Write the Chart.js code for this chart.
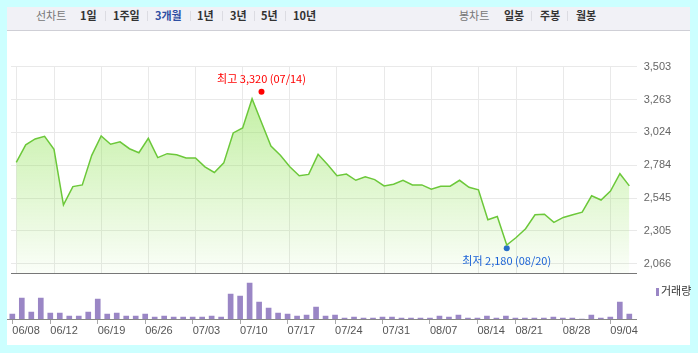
<!DOCTYPE html>
<html>
<head>
<meta charset="utf-8">
<script src="https://cdn.jsdelivr.net/npm/chart.js@4"></script>
<style>
  body { margin: 0; background: #ccffff; width: 698px; height: 353px; overflow: hidden; }
  #panel { position: absolute; left: 7px; top: 7px; width: 683px; height: 338px; background: #fff; }
  #head { position: absolute; left: 0; top: 0; width: 683px; height: 23px; background: #f1f1f6; border-bottom: 1px solid #cfcfd6; }
  #head span { position: absolute; top: 0; line-height: 17px; font: bold 11px "Noto Sans CJK KR", sans-serif; color: #333; white-space: nowrap; }
  #head span.lbl { font-weight: normal; color: #777; }
  #head span.on { color: #2e4fa3; }
  #head i { position: absolute; top: 4px; width: 1px; height: 10px; background: #dcdce2; }
  #priceCanvas { position: absolute; left: 0; top: 24px; }
  #volCanvas { position: absolute; left: 0; top: 270px; }
  #legend { position: absolute; left: 649px; top: 276px; font: 11px "Noto Sans CJK KR", sans-serif; color: #333; line-height: 14px; white-space: nowrap; }
  #legend b { display: inline-block; width: 3px; height: 8px; background: #9a86c5; margin-right: 2px; vertical-align: -1px; }
</style>
</head>
<body>
<div id="panel">
  <div id="head">
    <span class="lbl" style="left:29px">선차트</span>
    <span style="left:73px">1일</span><i style="left:98px"></i>
    <span style="left:106px">1주일</span><i style="left:140px"></i>
    <span class="on" style="left:148px">3개월</span><i style="left:183px"></i>
    <span style="left:190px">1년</span><i style="left:215px"></i>
    <span style="left:223px">3년</span><i style="left:247px"></i>
    <span style="left:254px">5년</span><i style="left:278px"></i>
    <span style="left:286px">10년</span>
    <span class="lbl" style="left:452px">봉차트</span>
    <span style="left:497px">일봉</span><i style="left:524px"></i>
    <span style="left:533px">주봉</span><i style="left:560px"></i>
    <span style="left:569px">월봉</span>
  </div>
  <canvas id="priceCanvas" width="683" height="246"></canvas>
  <canvas id="volCanvas" width="683" height="68"></canvas>
  <div id="legend"><b></b>거래량</div>
</div>
<script>
// ── Data ──────────────────────────────────────────────────────
const dates = [
  '06/08','06/09','06/10','06/11','06/12','06/15','06/16','06/17','06/18','06/19',
  '06/22','06/23','06/24','06/25','06/26','06/29','06/30',
  '07/01','07/02','07/03','07/06','07/07','07/08','07/09','07/10','07/13','07/14',
  '07/15','07/16','07/17','07/20','07/21','07/22','07/23','07/24','07/27','07/28',
  '07/29','07/30','07/31',
  '08/03','08/04','08/05','08/06','08/07','08/10','08/11','08/12','08/13','08/14',
  '08/18','08/19','08/20','08/21','08/24','08/25','08/26','08/27','08/28','08/31',
  '09/01','09/02','09/03','09/04','09/07','09/08'
];

const closes = [
  2806, 2933, 2976, 2996, 2900, 2495, 2629, 2641, 2857, 2998, 2938, 2955, 2905, 2876, 2981, 2840, 2869,
  2861, 2838, 2838, 2773, 2732, 2802, 3020, 3056, 3269, 3096, 2924, 2857, 2773, 2708, 2718, 2864, 2790,
  2708, 2720, 2675, 2701, 2680, 2634, 2646, 2675, 2641, 2641, 2610, 2632, 2632, 2675, 2624, 2605,
  2387, 2411, 2203, 2258, 2322, 2423, 2428, 2368, 2404, 2423, 2443, 2562, 2531, 2596, 2723, 2634
];

// 거래량 (relative units)
const volumes = [
  50, 210, 70, 210, 60, 60, 30, 30, 70, 200, 50, 60, 30, 30, 50, 20, 30,
  20, 20, 20, 20, 30, 20, 250, 230, 360, 170, 110, 60, 50, 30, 40, 120, 30, 40,
  10, 20, 10, 10, 20, 20, 10, 10, 10, 10, 30, 20, 40, 10, 10,
  30, 10, 30, 10, 10, 10, 10, 20, 10, 10, 0, 40, 10, 20, 170, 50
];

const axisDates = ['06/08','06/12','06/19','06/26','07/03','07/10','07/17',
                   '07/24','07/31','08/07','08/14','08/21','08/28','09/04'];

const yTickValues = [2066, 2305.5, 2545, 2784.5, 3024, 3263.5, 3503];
const yTickLabels = ['2,066', '2,305', '2,545', '2,784', '3,024', '3,263', '3,503'];

const markerDates  = ['07/14', '08/20'];
const markerValues = [3320, 2180];
const markerLabels = ['최고 3,320 (07/14)', '최저 2,180 (08/20)'];

// ── Shared setup ──────────────────────────────────────────────
Chart.defaults.font.family = '"Liberation Sans", Arial, sans-serif';
Chart.defaults.animation = false;

const xTicks = axisDates.map(d => dates.indexOf(d));
const X_MIN = -0.56, X_MAX = 65.78;
const GRID = '#e9e9e9';

const markerText = {
    id: 'markerText',
    afterDatasetsDraw(chart) {
        const { ctx, scales: { x, y } } = chart;
        ctx.save();
        ctx.font = '11px "Noto Sans CJK KR", sans-serif';
        ctx.textAlign = 'center';
        ctx.textBaseline = 'middle';
        markerValues.forEach((v, i) => {
            const px = x.getPixelForValue(dates.indexOf(markerDates[i]));
            const py = y.getPixelForValue(v) + (i === 0 ? -13 : 12.5);
            ctx.fillStyle = i === 0 ? '#ff0000' : '#1b62d6';
            ctx.fillText(markerLabels[i], px, py);
        });
        ctx.restore();
    }
};

// ── Price line chart ──────────────────────────────────────────
new Chart(document.getElementById('priceCanvas'), {
    type: 'line',
    data: {
        datasets: [{
            data: closes.map((v, i) => ({ x: i, y: v })),
            borderColor: '#6cc83a',
            borderWidth: 1.5,
            pointRadius: 0,
            tension: 0,
            fill: 'start',
            backgroundColor: (c) => {
                const a = c.chart.chartArea;
                if (!a) return 'rgba(140,225,80,0.3)';
                const g = c.chart.ctx.createLinearGradient(0, a.top, 0, a.bottom);
                g.addColorStop(0, 'rgba(140,225,80,0.6)');
                g.addColorStop(1, 'rgba(140,225,80,0.04)');
                return g;
            }
        }, {
            data: markerValues.map((v, i) => ({ x: dates.indexOf(markerDates[i]), y: v })),
            showLine: false,
            fill: false,
            pointRadius: 3,
            pointBorderWidth: 0,
            pointBackgroundColor: ['#ff0000', '#1b62d6']
        }]
    },
    options: {
        responsive: false,
        devicePixelRatio: 1,
        layout: { padding: { top: 35.7, bottom: 1, left: 0, right: 0 } },
        plugins: { legend: { display: false }, tooltip: { enabled: false } },
        scales: {
            x: {
                type: 'linear', min: X_MIN, max: X_MAX, offset: false,
                afterBuildTicks: s => { s.ticks = xTicks.map(v => ({ value: v })); },
                afterFit: s => { s.height = 0; },
                ticks: { display: false },
                grid: { color: GRID, drawTicks: false, offset: false },
                border: { color: '#777', width: 1 }
            },
            y: {
                position: 'right', min: 1999, max: 3503,
                afterBuildTicks: s => { s.ticks = yTickValues.map(v => ({ value: v })); },
                afterFit: s => { s.width = 53.3; s.paddingTop = 0; s.paddingBottom = 0; },
                ticks: { padding: 7, color: '#666', font: { size: 11 },
                         callback: (v, i) => yTickLabels[i] },
                grid: { color: GRID, drawTicks: false },
                border: { display: false }
            }
        }
    },
    plugins: [markerText]
});

// ── Volume bar chart ──────────────────────────────────────────
new Chart(document.getElementById('volCanvas'), {
    type: 'bar',
    data: {
        datasets: [{
            data: volumes.map((v, i) => ({ x: i, y: v })),
            backgroundColor: '#9a86c5',
            barThickness: 5,
            borderWidth: 0
        }]
    },
    options: {
        responsive: false,
        devicePixelRatio: 1,
        layout: { padding: { top: 2, right: 53.3, bottom: 7.8, left: 0 } },
        plugins: { legend: { display: false }, tooltip: { enabled: false } },
        scales: {
            x: {
                type: 'linear', min: X_MIN, max: X_MAX, offset: false,
                afterBuildTicks: s => { s.ticks = xTicks.map(v => ({ value: v })); },
                ticks: { align: 'start', autoSkip: false, maxRotation: 0, padding: 0,
                         color: '#555', font: { size: 11 },
                         callback: (v, i) => axisDates[i] },
                grid: { drawOnChartArea: false, drawTicks: true, tickLength: 5,
                        color: '#aaa', offset: false },
                border: { color: '#888', width: 1 }
            },
            y: { display: false, min: 0, max: 400 }
        }
    }
});
</script>
</body>
</html>
